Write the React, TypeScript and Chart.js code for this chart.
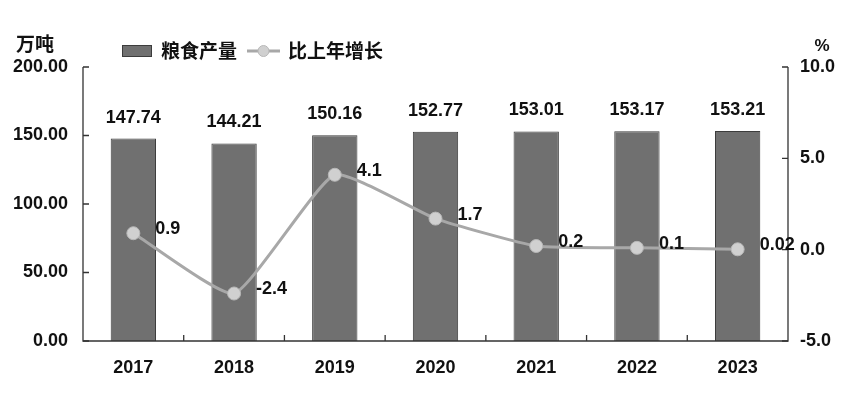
import React, { useEffect, useRef } from "react";
import { Chart, registerables } from "chart.js";

Chart.register(...registerables);

const years = ["2017", "2018", "2019", "2020", "2021", "2022", "2023"];
const grainOutput = [147.74, 144.21, 150.16, 152.77, 153.01, 153.17, 153.21];
const growthRate = [0.9, -2.4, 4.1, 1.7, 0.2, 0.1, 0.02];
const growthLabels = ["0.9", "-2.4", "4.1", "1.7", "0.2", "0.1", "0.02"];
const leftTicks = [0, 50, 100, 150, 200];
const rightTicks = [-5, 0, 5, 10];
const seriesNames = ["粮食产量", "比上年增长"];
const leftUnit = "万吨";
const rightUnit = "%";

const NUM_FONT = "bold 18px 'Liberation Sans', Arial, sans-serif";
const CJK_FONT = "bold 19px 'Noto Sans CJK SC', sans-serif";
const TEXT = "#111111";
const BAR_FILL = "#707070";
const BAR_BORDER = "#3c3c3c";
const LINE_COLOR = "#a8a8a8";
const POINT_FILL = "#d0d0d0";
const AXIS = "#333333";

const decorPlugin = {
  id: "decor",
  afterDraw(chart: any) {
    const ctx = chart.ctx;
    const area = chart.chartArea;
    const xs = chart.scales.x;
    const yl = chart.scales.y;
    const yr = chart.scales.y1;
    ctx.save();
    ctx.strokeStyle = AXIS;
    ctx.lineWidth = 1.3;
    ctx.beginPath();
    ctx.moveTo(area.left, area.top);
    ctx.lineTo(area.left, area.bottom);
    ctx.lineTo(area.right, area.bottom);
    ctx.lineTo(area.right, area.top);
    ctx.stroke();
    ctx.beginPath();
    leftTicks.forEach((v) => {
      const y = yl.getPixelForValue(v);
      ctx.moveTo(area.left, y);
      ctx.lineTo(area.left + 6, y);
    });
    rightTicks.forEach((v) => {
      const y = yr.getPixelForValue(v);
      ctx.moveTo(area.right, y);
      ctx.lineTo(area.right - 6, y);
    });
    for (let i = 0; i < years.length - 1; i++) {
      const x = (xs.getPixelForValue(i) + xs.getPixelForValue(i + 1)) / 2;
      ctx.moveTo(x, area.bottom);
      ctx.lineTo(x, area.bottom - 6);
    }
    ctx.stroke();

    ctx.fillStyle = TEXT;
    ctx.font = NUM_FONT;
    ctx.textAlign = "center";
    ctx.textBaseline = "middle";
    const barMeta = chart.getDatasetMeta(1);
    barMeta.data.forEach((el: any, i: number) => {
      ctx.fillText(grainOutput[i].toFixed(2), el.x, el.y - 21);
    });
    ctx.textAlign = "left";
    const lineMeta = chart.getDatasetMeta(0);
    lineMeta.data.forEach((el: any, i: number) => {
      ctx.fillText(growthLabels[i], el.x + 22, el.y - 4);
    });

    ctx.font = CJK_FONT;
    ctx.textAlign = "center";
    ctx.fillText(leftUnit, 35, 44);
    ctx.font = "bold 17px 'Liberation Sans', sans-serif";
    ctx.fillText(rightUnit, 822, 46);

    const ly = 51;
    ctx.fillStyle = BAR_FILL;
    ctx.strokeStyle = BAR_BORDER;
    ctx.lineWidth = 1;
    ctx.fillRect(122, ly - 6, 30, 12);
    ctx.strokeRect(122.5, ly - 5.5, 29, 11);
    ctx.fillStyle = TEXT;
    ctx.font = CJK_FONT;
    ctx.textAlign = "left";
    ctx.fillText(seriesNames[0], 161, ly);
    ctx.strokeStyle = LINE_COLOR;
    ctx.lineWidth = 3;
    ctx.beginPath();
    ctx.moveTo(247, ly);
    ctx.lineTo(280, ly);
    ctx.stroke();
    ctx.fillStyle = POINT_FILL;
    ctx.strokeStyle = "#b8b8b8";
    ctx.lineWidth = 1;
    ctx.beginPath();
    ctx.arc(263.5, ly, 5.5, 0, Math.PI * 2);
    ctx.fill();
    ctx.stroke();
    ctx.fillStyle = TEXT;
    ctx.fillText(seriesNames[1], 288, ly);
    ctx.restore();
  },
};

export default function App() {
  const ref = useRef<HTMLCanvasElement | null>(null);
  useEffect(() => {
    if (!ref.current) return;
    const tickFont = { family: "'Liberation Sans', Arial, sans-serif", size: 18, weight: "bold" as const };
    const chart = new Chart(ref.current, {
      type: "bar",
      data: {
        labels: years,
        datasets: [
          {
            type: "line" as const,
            label: seriesNames[1],
            data: growthRate,
            yAxisID: "y1",
            borderColor: LINE_COLOR,
            borderWidth: 3,
            backgroundColor: POINT_FILL,
            pointBackgroundColor: POINT_FILL,
            pointBorderColor: "#b8b8b8",
            pointBorderWidth: 1,
            pointRadius: 6.5,
            tension: 0.15,
            order: 0,
          },
          {
            type: "bar" as const,
            label: seriesNames[0],
            data: grainOutput,
            yAxisID: "y",
            backgroundColor: BAR_FILL,
            borderColor: BAR_BORDER,
            borderWidth: 1,
            barPercentage: 0.45,
            categoryPercentage: 1,
            order: 1,
          },
        ],
      },
      options: {
        responsive: true,
        maintainAspectRatio: false,
        animation: false,
        layout: { padding: { top: 67, bottom: 0, left: 0, right: 0 } },
        plugins: { legend: { display: false }, tooltip: { enabled: false }, title: { display: false } },
        scales: {
          x: {
            grid: { display: false, drawTicks: false },
            border: { display: false },
            ticks: { font: tickFont, color: TEXT, padding: 16 },
            afterFit: (s: any) => { s.height = 54; },
          },
          y: {
            position: "left",
            min: 0,
            max: 200,
            grid: { display: false, drawTicks: false },
            border: { display: false },
            ticks: { stepSize: 50, font: tickFont, color: TEXT, padding: 15, callback: (v: any) => Number(v).toFixed(2) },
            afterFit: (s: any) => { s.width = 83; },
          },
          y1: {
            position: "right",
            min: -5,
            max: 10,
            grid: { display: false, drawTicks: false },
            border: { display: false },
            ticks: { stepSize: 5, font: tickFont, color: TEXT, padding: 12, callback: (v: any) => Number(v).toFixed(1) },
            afterFit: (s: any) => { s.width = 62; },
          },
        },
      },
      plugins: [decorPlugin],
    });
    return () => chart.destroy();
  }, []);
  return (
    <div style={{ position: "absolute", left: 0, top: 0, width: 850, height: 395, background: "#fff" }}>
      <canvas ref={ref} />
    </div>
  );
}
